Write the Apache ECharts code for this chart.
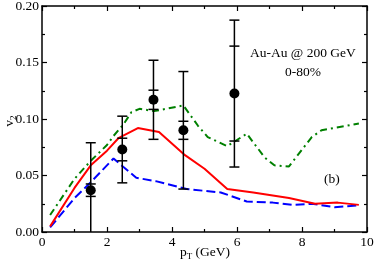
<!DOCTYPE html>
<html><head><meta charset="utf-8">
<script src="https://cdn.jsdelivr.net/npm/echarts@6/dist/echarts.min.js"></script>
<style>html,body{margin:0;padding:0;background:#fff}#c{width:374px;height:264px}</style>
</head><body><div id="c"></div>
<script>
// Experimental points
var expX = [1.5, 2.47, 3.43, 4.35, 5.92];
var expV2 = [0.037, 0.073, 0.117, 0.090, 0.1225];
var innerErr = [0.0055, 0.010, 0.0085, 0.008, 0.042];
var outerErr = [0.042, 0.0295, 0.035, 0.052, 0.065];

// Model curves [pT, v2]
var redCurve = [[0.25,0.005],[1.0,0.039],[1.5,0.059],[2.0,0.072],[2.35,0.083],[2.95,0.092],[3.6,0.0885],[4.4,0.068],[5.0,0.056],[5.7,0.038],[6.5,0.035],[7.6,0.030],[8.4,0.025],[9.1,0.026],[9.75,0.024]];
var blueCurve = [[0.25,0.004],[1.0,0.030],[1.5,0.044],[2.2,0.065],[2.9,0.048],[3.5,0.045],[4.45,0.038],[5.5,0.035],[6.3,0.027],[7.1,0.026],[7.7,0.024],[8.3,0.025],[9.0,0.022],[9.75,0.0235]];
var greenCurve = [[0.25,0.015],[1.0,0.047],[1.5,0.063],[2.0,0.077],[2.2,0.085],[2.5,0.095],[2.75,0.106],[3.0,0.109],[3.45,0.107],[4.35,0.112],[4.8,0.094],[5.1,0.084],[5.7,0.076],[6.3,0.087],[6.85,0.066],[7.15,0.059],[7.6,0.058],[8.3,0.084],[8.6,0.090],[9.75,0.096]];

var xTicks = ['0','2','4','6','8','10'];
var yTicks = ['0.00','0.05','0.10','0.15','0.20'];

var FONT = 'Liberation Serif';
var chart = echarts.init(document.getElementById('c'), null, {renderer:'canvas'});

var errData = expX.map(function(x,i){
  return [x, expV2[i], expV2[i]-outerErr[i], expV2[i]+outerErr[i], expV2[i]-innerErr[i], expV2[i]+innerErr[i]];
});

function renderErr(params, api){
  var x = api.value(0);
  var lo = Math.max(0, api.value(2)), hi = api.value(3);
  var ilo = api.value(4), ihi = api.value(5);
  var pLo = api.coord([x, lo]), pHi = api.coord([x, hi]);
  var qLo = api.coord([x, ilo]), qHi = api.coord([x, ihi]);
  var w = 5;
  var st = {stroke:'#000', lineWidth:1.5};
  var children = [
    {type:'line', shape:{x1:pLo[0],y1:pLo[1],x2:pHi[0],y2:pHi[1]}, style:st},
    {type:'line', shape:{x1:pHi[0]-w,y1:pHi[1],x2:pHi[0]+w,y2:pHi[1]}, style:st},
    {type:'line', shape:{x1:qLo[0]-w,y1:qLo[1],x2:qLo[0]+w,y2:qLo[1]}, style:st},
    {type:'line', shape:{x1:qHi[0]-w,y1:qHi[1],x2:qHi[0]+w,y2:qHi[1]}, style:st}
  ];
  if (api.value(2) >= 0) {
    children.push({type:'line', shape:{x1:pLo[0]-w,y1:pLo[1],x2:pLo[0]+w,y2:pLo[1]}, style:st});
  }
  return {type:'group', children:children};
}

var axisLine = {show:true, onZero:false, lineStyle:{color:'#000', width:1.5}};
var tickStyle = {color:'#000', width:1.2};
var richName = {a:{fontFamily:FONT, fontSize:13.5, fill:'#000', color:'#000'}, s:{fontFamily:FONT, fontSize:9, fill:'#000', color:'#000', padding:[9,0,0,0]}};
var option = {
  animation:false,
  grid:{left:42, right:7, top:6, bottom:32, containLabel:false, outerBoundsMode:'none'},
  xAxis:[{
    type:'value', min:0, max:10, interval:2,
    axisLine:axisLine,
    axisTick:{show:true, inside:true, length:5, lineStyle:tickStyle},
    minorTick:{show:true, splitNumber:2, length:3, lineStyle:tickStyle},
    splitLine:{show:false},
    axisLabel:{color:'#000', fontFamily:FONT, fontSize:13.5, margin:3,
      formatter:function(v){ return xTicks[Math.round(v/2)]; }}
  },{
    type:'value', min:0, max:10, interval:2, position:'top',
    axisLine:axisLine,
    axisTick:{show:true, inside:true, length:5, lineStyle:tickStyle},
    minorTick:{show:true, splitNumber:2, length:3, lineStyle:tickStyle},
    splitLine:{show:false}, axisLabel:{show:false}
  }],
  yAxis:[{
    type:'value', min:0, max:0.2, interval:0.05,
    axisLine:axisLine,
    axisTick:{show:true, inside:true, length:5, lineStyle:tickStyle},
    minorTick:{show:true, splitNumber:2, length:3, lineStyle:tickStyle},
    splitLine:{show:false},
    axisLabel:{color:'#000', fontFamily:FONT, fontSize:13.5, margin:3,
      formatter:function(v){ return yTicks[Math.round(v/0.05)]; }}
  },{
    type:'value', min:0, max:0.2, interval:0.05, position:'right',
    axisLine:axisLine,
    axisTick:{show:true, inside:true, length:5, lineStyle:tickStyle},
    minorTick:{show:true, splitNumber:2, length:3, lineStyle:tickStyle},
    splitLine:{show:false}, axisLabel:{show:false}
  }],
  graphic:[
    {type:'text', left:250, top:46, style:{text:'Au-Au @ 200 GeV', font:'13.5px "Liberation Serif"', fill:'#000'}},
    {type:'text', left:285, top:65, style:{text:'0-80%', font:'13.5px "Liberation Serif"', fill:'#000'}},
    {type:'text', left:324, top:172, style:{text:'(b)', font:'13.5px "Liberation Serif"', fill:'#000'}},
    {type:'text', x:205, y:252, style:{text:'{a|p}{s|T}{a| (GeV)}', rich:richName, align:'center', verticalAlign:'middle'}},
    {type:'text', x:9, y:121, rotation:Math.PI/2, style:{text:'{a|v}{s|2}', rich:richName, align:'center', verticalAlign:'middle'}}
  ],
  series:[
    {type:'line', data:greenCurve, showSymbol:false, lineStyle:{color:'#008000', width:2, type:[7,4,2,4]}, z:2},
    {type:'line', data:redCurve, showSymbol:false, lineStyle:{color:'#ff0000', width:2}, z:3},
    {type:'line', data:blueCurve, showSymbol:false, lineStyle:{color:'#0000ff', width:2, type:[9,4]}, z:2},
    {type:'custom', data:errData, renderItem:renderErr, z:4, encode:{x:0, y:1}},
    {type:'scatter', data:expX.map(function(x,i){return [x, expV2[i]];}), symbol:'circle', symbolSize:10, itemStyle:{color:'#000', opacity:1}, z:5}
  ]
};
chart.setOption(option);
</script>
</body></html>
